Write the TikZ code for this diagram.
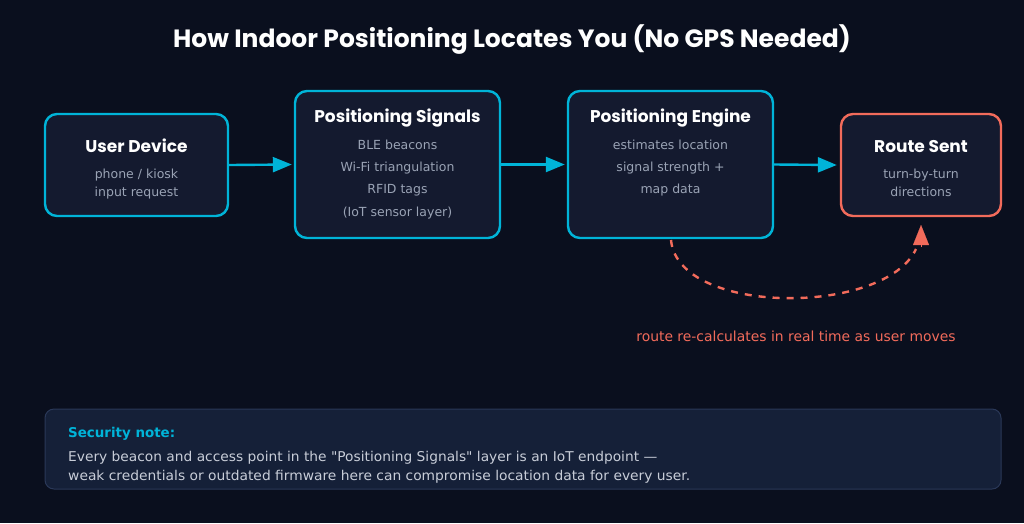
\documentclass[tikz,border=0pt]{standalone}
\usepackage{fontspec}
\usepackage{graphicx}
\setmainfont{DejaVu Sans}
\newfontfamily\pop{Poppins}
\newfontfamily\dv{DejaVu Sans}
\usetikzlibrary{arrows.meta}
\definecolor{bg}{HTML}{0A0F1E}
\definecolor{boxfill}{HTML}{141A2F}
\definecolor{cyanc}{HTML}{00B4D8}
\definecolor{coral}{HTML}{F26B5B}
\definecolor{sub}{HTML}{9AA3B5}
\definecolor{notefill}{HTML}{152038}
\definecolor{noteborder}{HTML}{2A3858}
\definecolor{notetext}{HTML}{C8CDD8}
\tikzset{
  box/.style={draw=cyanc, line width=2.4pt, fill=boxfill, rounded corners=12pt, inner sep=0pt},
  boxr/.style={box, draw=coral},
  ttl/.style={text=white, font=\pop\bfseries\fontsize{17}{19}\selectfont, text height=12pt, text depth=4pt, inner sep=0pt},
  subt/.style={text=sub, font=\fontsize{12.5}{14}\selectfont, text height=9pt, text depth=2.5pt, inner sep=0pt},
  arr/.style={draw=cyanc, line width=2.4pt, -{Triangle[length=19pt,width=15pt]}},
  notet/.style={anchor=west, text=notetext, font=\dv\fontsize{13.5}{16}\selectfont, inner sep=0pt},
}
\begin{document}
\begin{tikzpicture}[x=1pt,y=-1pt]
\path[fill=bg] (0,0) rectangle (1024,523);
\useasboundingbox (0,0) rectangle (1024,523);
% title
\node[text=white, font=\pop\bfseries\fontsize{25}{28}\selectfont, inner sep=0pt] (title) at (512,39.5) {How Indoor Positioning Locates You (No GPS Needed)};
% boxes
\node[box, minimum width=183pt, minimum height=102pt] (ud) at (136.5,165) {};
\node[box, minimum width=205pt, minimum height=147pt] (ps) at (397.5,164.5) {};
\node[box, minimum width=205pt, minimum height=147pt] (pe) at (670.5,164.5) {};
\node[boxr, minimum width=160pt, minimum height=102pt] (rs) at (921,165) {};
% box texts
\node[ttl] (udt) at (136.5,148.5) {User Device};
\node[subt] (ud1) at (136.5,175.5) {phone / kiosk};
\node[subt] (ud2) at (136.5,193.5) {input request};
\node[ttl] (pst) at (397.5,118.5) {Positioning Signals};
\node[subt] (ps1) at (397.5,146.5) {BLE beacons};
\node[subt] (ps2) at (397.5,168.5) {Wi-Fi triangulation};
\node[subt] (ps3) at (397.5,190.5) {RFID tags};
\node[subt] (ps4) at (397.5,213.5) {(IoT sensor layer)};
\node[ttl] (pet) at (670.5,118.5) {Positioning Engine};
\node[subt] (pe1) at (670.5,146.5) {estimates location};
\node[subt] (pe2) at (670.5,168.5) {signal strength +};
\node[subt] (pe3) at (670.5,190.5) {map data};
\node[ttl] (rst) at (921,148.5) {Route Sent};
\node[subt] (rs1) at (921,175.5) {turn-by-turn};
\node[subt] (rs2) at (921,193.5) {directions};
% arrows
\draw[arr] (ud.east) -- ([xshift=-2pt]ps.west);
\draw[arr] (ps.east) -- ([xshift=-2pt]pe.west);
\draw[arr] (pe.east) -- ([xshift=-3pt]rs.west);
% feedback loop
\coordinate (fbs) at (671,240);
\coordinate (fbe) at (916,249);
\coordinate (fbb) at (921,247);
\coordinate (fbt) at (921,225);
\draw[coral, line width=2.4pt, dash pattern=on 7pt off 7pt] (fbs) .. controls (678,316) and (885,316) .. (fbe);
\draw[coral, line width=0.1pt, -{Triangle[length=20pt,width=16pt]}] (fbb) -- (fbt);
\node[text=coral, font=\fontsize{13.9}{16}\selectfont, inner sep=0pt] (fbl) at (796,336) {route re-calculates in real time as user moves};
% security note
\node[draw=noteborder, line width=1pt, fill=notefill, rounded corners=9pt, minimum width=956pt, minimum height=80pt, inner sep=0pt] (note) at (523,449) {};
\node[anchor=west, text=cyanc, font=\dv\bfseries\fontsize{13.5}{16}\selectfont, inner sep=0pt] (nt) at (68,434) {\resizebox{107pt}{\height}{Security note:}};
\node[notet] (n1) at (68,458) {\resizebox{589pt}{\height}{Every beacon and access point in the "Positioning Signals" layer is an IoT endpoint —}};
\node[notet] (n2) at (68,477) {\resizebox{622pt}{\height}{weak credentials or outdated firmware here can compromise location data for every user.}};
\end{tikzpicture}
\end{document}
